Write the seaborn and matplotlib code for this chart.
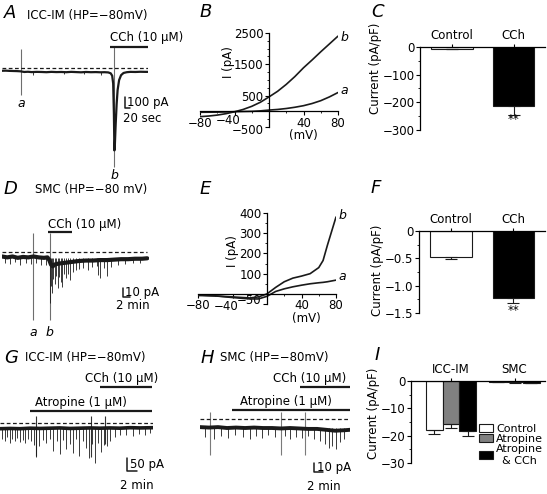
import numpy as np
import pandas as pd
import matplotlib
matplotlib.use('Agg')
import matplotlib.pyplot as plt
import matplotlib.transforms as mtransforms
import seaborn as sns
from matplotlib.ticker import MultipleLocator

# ---- data ----
# A: ICC-IM holding current (time in s, current in pA)
A_t = [0, 15, 30, 45, 60, 75, 90, 105, 120, 140, 160, 180, 200, 220, 240, 260, 280, 300, 320, 340, 360,
       380, 400, 415, 430, 440, 446, 450, 453, 455, 457, 460, 464, 468, 474, 482, 492, 505, 520, 540,
       560, 580, 591]
A_i = [-25, -24, -26, -27, -28, -30, -36, -34, -37, -35, -36, -38, -35, -37, -36, -38, -35, -37, -39,
       -36, -38, -37, -39, -38, -40, -48, -70, -140, -420, -750, -690, -520, -330, -200, -110, -65, -45,
       -38, -35, -36, -34, -35, -35]
A_spk_t = [125, 250, 330, 400]
A_spk_i = [-60, -55, -58, -62]
A_ramp_t = [77, 455]
A_ramp_top = [173, 200]
A_ramp_bot = [-250, -905]

# B: I-V curves (mV, pA)
B_mv = [-80, -70, -60, -50, -40, -30, -20, -10, 0, 10, 20, 30, 40, 50, 60, 70, 80]
B_a = [-30, -28, -25, -20, -12, -5, 0, 15, 40, 60, 90, 130, 180, 250, 340, 460, 600]
B_b = [-170, -150, -120, -75, -15, 60, 160, 290, 460, 640, 860, 1110, 1390, 1640, 1900, 2150, 2400]

# C: mean current density
C_cats = ['Control', 'CCh']
C_vals = [-6, -215]
C_sem = [2, 30]

# D: SMC holding current (time in min, current in pA)
D_t = [0, 1.5, 3, 4.5, 6, 7.5, 9, 10.5, 12, 13, 13.5, 14, 14.5, 15, 16, 17, 18, 19, 20, 21, 22, 24,
       26, 28, 30, 32, 34, 36, 38, 40, 41.5]
D_i = [-5, -6, -5, -6.5, -5.5, -6, -5, -6, -6.5, -6, -9, -14, -16, -14, -13, -12.5, -12, -11.5, -11,
       -10.5, -10, -9.5, -9.5, -9, -9, -8.5, -8, -8, -7.5, -7.5, -7]
D_spk_t = [0.8, 2.2, 3.6, 5.1, 6.8, 8.2, 9.8, 11.2, 12.6, 13.7, 14.0, 14.3, 14.7, 15.1, 15.5, 16.0,
           16.4, 16.9, 17.2, 17.7, 18.3, 18.9, 19.5, 20.2, 21.0, 22.0, 23.2, 24.5, 25.8, 27.0, 27.5,
           28.1, 29.0, 30.0, 31.2, 33.0, 35.0, 37.5, 39.5]
D_spk_i = [-12, -13, -11, -14, -12, -13, -12, -14, -15, -57, -38, -46, -30, -36, -27, -40, -28, -33,
           -39, -25, -29, -24, -31, -22, -20, -19, -18, -20, -17, -16, -26, -29, -18, -27, -17, -14,
           -13, -12, -12]
D_ramp_t = [8.9, 13.7]

# E: I-V curves (mV, pA)
E_mv = [-80, -60, -40, -20, -10, 0, 10, 20, 30, 40, 50, 60, 65, 70, 75, 80]
E_a = [-5, -10, -18, -25, -25, -12, 12, 25, 35, 43, 50, 55, 57, 60, 64, 68]
E_b = [-8, -10, -15, -20, -15, 0, 32, 60, 78, 88, 100, 130, 165, 240, 310, 380]

# F: mean current density
F_cats = ['Control', 'CCh']
F_vals = [-0.48, -1.23]
F_sem = [0.04, 0.09]

# G: ICC-IM with atropine (min, pA)
G_t = [0, 2, 4, 6, 8, 10, 12, 14, 16, 18, 20, 22, 24, 26, 28, 30.6]
G_i = [-22, -21, -22, -20, -21, -20, -19, -21, -20, -19, -20, -19, -20, -18, -19, -18]
G_spk_t = [0.4, 0.9, 1.4, 1.9, 2.4, 2.9, 3.4, 3.9, 4.5, 5.0, 5.6, 6.2, 6.7, 7.2, 7.8, 8.5, 9.2, 10.0,
           10.6, 11.3, 12.0, 12.6, 13.2, 13.9, 14.5, 15.2, 15.8, 16.5, 17.2, 17.8, 18.3, 19.0, 19.5,
           20.2, 20.8, 21.4, 22.0, 23.0, 24.0, 25.2, 26.5, 27.8, 29.0, 30.0]
G_spk_i = [-60, -70, -55, -75, -62, -68, -58, -72, -65, -78, -60, -70, -85, -131, -90, -66, -75, -60,
           -108, -70, -120, -65, -100, -80, -115, -60, -127, -70, -95, -135, -80, -154, -75, -110,
           -85, -90, -70, -55, -48, -45, -50, -42, -45, -40]
G_ramp_t = [7.2, 18.2, 21.0]
G_ramp_bot = [-125, -130, -80]

# H: SMC with atropine (min, pA)
H_t = [0, 2, 4, 6, 8, 10, 12, 14, 16, 18, 20, 22, 24, 26, 28, 30, 32, 33.3]
H_i = [-9, -9.5, -9, -10, -9.5, -10, -9.5, -10, -10, -10.5, -10, -10.5, -11, -11, -12, -13, -12.5, -12]
H_spk_t = [1.0, 3.0, 4.6, 6.2, 7.8, 9.5, 11.0, 12.4, 13.8, 15.2, 16.6, 18.8, 20.0, 21.4, 22.6, 24.0,
           25.4, 26.6, 27.8, 28.6, 29.4, 30.2, 31.0, 32.0]
H_spk_i = [-20, -22, -19, -21, -18, -20, -22, -19, -21, -18, -20, -19, -22, -20, -21, -19, -22, -24,
           -28, -32, -30, -33, -26, -22]
H_ramp_t = [2.2, 18.0, 23.3]

# I: summary with atropine
I_groups = ['ICC-IM', 'SMC']
I_conds = ['Control', 'Atropine', 'Atropine\n& CCh']
I_vals = {'Control': [-17.9, -0.4], 'Atropine': [-15.9, -0.5], 'Atropine\n& CCh': [-18.2, -0.6]}
I_sem = {'Control': [1.6, 0.1], 'Atropine': [1.4, 0.1], 'Atropine\n& CCh': [1.8, 0.1]}

# ---- figure ----
W, H = 547, 494
sns.set_theme(style='ticks')
plt.rcParams['font.family'] = ['DejaVu Sans']
plt.rcParams['font.size'] = 8.5
plt.rcParams['axes.linewidth'] = 0.9
for k in ['text.color', 'axes.labelcolor', 'axes.edgecolor', 'xtick.color', 'ytick.color']:
    plt.rcParams[k] = 'black'

fig = plt.figure(figsize=(W / 100, H / 100), dpi=100)
FS = 8.5


def box(x0, y0, x1, y1):
    return fig.add_axes([x0 / W, 1 - y1 / H, (x1 - x0) / W, (y1 - y0) / H])


def ftext(x, y, s, **kw):
    kw.setdefault('fontsize', FS)
    kw.setdefault('va', 'center')
    fig.text(x / W, 1 - y / H, s, **kw)


def letter(x, y, s):
    ftext(x, y, s, fontsize=13, style='italic')


def nudge(label, dx, dy):
    # shift a tick label by a few pixels
    off = mtransforms.ScaledTranslation(dx / 100, -dy / 100, fig.dpi_scale_trans)
    label.set_transform(label.get_transform() + off)


def trace(ax, t, i, spk_t, spk_i, level, lw=2.5):
    sns.lineplot(x=t, y=i, ax=ax, color='k', lw=lw, estimator=None, sort=False)
    ax.vlines(spk_t, level, spk_i, color='k', lw=0.6)
    ax.plot([t[0], t[-1]], [0, 0], color='k', lw=0.9, ls=(0, (3, 2)))
    ax.axis('off')


def hbar(ax, x0, x1, y):
    ax.plot([x0, x1], [y, y], color='k', lw=1.6, clip_on=False, solid_capstyle='butt')


def scalebar(ax, x0, dx, y0, dy, ylab, xlab, xlab_x, xlab_y):
    ax.plot([x0, x0, x0 + dx], [y0 + dy, y0, y0], color='k', lw=1.1, clip_on=False)
    ax.text(x0 + dx * 0.3, y0 + dy * 0.5, ylab, fontsize=FS, va='center', ha='left')
    ax.text(xlab_x, xlab_y, xlab, fontsize=FS, va='center', ha='center')


def iv_axes(ax, xlim, ylim):
    ax.set_xlim(*xlim)
    ax.set_ylim(*ylim)
    for s in ['top', 'right']:
        ax.spines[s].set_visible(False)
    ax.spines['left'].set_position(('data', 0))
    ax.spines['bottom'].set_position(('data', 0))
    ax.xaxis.set_minor_locator(MultipleLocator(20))
    ax.tick_params(which='major', length=3, width=0.8, labelsize=FS, pad=1)
    ax.tick_params(which='minor', length=1.5, width=0.6)
    ax.set_xlabel('')
    ax.set_ylabel('')


def bar_axes(ax, yt, ylabels, minor):
    for s in ['bottom', 'right']:
        ax.spines[s].set_visible(False)
    ax.xaxis.tick_top()
    ax.set_yticks(yt)
    ax.set_yticklabels(ylabels)
    ax.set_ylim(yt[-1], 0)
    ax.yaxis.set_minor_locator(MultipleLocator(minor))
    ax.tick_params(which='major', length=3, width=0.8, labelsize=FS, pad=1)
    ax.tick_params(which='minor', length=1.5, width=0.6)
    ax.tick_params(axis='x', length=2.5, pad=1)
    ax.set_xlabel('')
    ax.set_ylabel('')


def simple_bars(ax, cats, vals, sem):
    df = pd.DataFrame({'cat': cats, 'val': vals})
    sns.barplot(data=df, x='cat', y='val', hue='cat', palette=['white', 'black'], edgecolor='k',
                linewidth=0.8, width=0.67, errorbar=None, legend=False, ax=ax)
    ax.errorbar(range(len(cats)), vals, yerr=[sem, [0] * len(sem)], fmt='none', ecolor='k',
                elinewidth=0.8, capsize=4.5, capthick=0.8)
    ax.set_xlim(-0.52, 1.51)


# ---- A ----
letter(4, 13, 'A')
ftext(27, 15, 'ICC-IM (HP=\u221280mV)')
axA = box(2, 30, 148, 180)
axA.set_xlim(0, 591)
axA.set_ylim(-1019, 346)
axA.vlines(A_ramp_t, A_ramp_bot, A_ramp_top, color='#6e6e6e', lw=0.8)
trace(axA, A_t, A_i, A_spk_t, A_spk_i, -36, lw=1.6)
for t, yb, s in zip(A_ramp_t, A_ramp_bot, ['a', 'b']):
    axA.text(t, yb - 70, s, fontsize=9, style='italic', ha='center', va='center')
hbar(axA, 437, 591, 191)
axA.text(437, 282, 'CCh (10 \u00b5M)', fontsize=FS, va='center', ha='left')
scalebar(axA, 498, 20, -364, 100, '100 pA', '20 sec', 567, -455)

# ---- B ----
letter(200, 12, 'B')
axB = box(200, 33, 338, 127)
sns.lineplot(x=B_mv, y=B_a, ax=axB, color='k', lw=1.2)
sns.lineplot(x=B_mv, y=B_b, ax=axB, color='k', lw=1.2)
iv_axes(axB, (-80, 80), (-500, 2500))
axB.set_xticks([-80, -40, 40, 80])
axB.set_yticks([-500, 500, 1500, 2500])
axB.yaxis.set_minor_locator(MultipleLocator(250))
nudge(axB.get_xticklabels()[1], -6, -3)
nudge(axB.get_yticklabels()[0], 0, 2)
axB.text(83, 2370, 'b', fontsize=9, style='italic', va='center')
axB.text(83, 660, 'a', fontsize=9, style='italic', va='center')
axB.text(-47, 1570, 'I (pA)', fontsize=FS, rotation=90, ha='center', va='center')
axB.text(40, -760, '(mV)', fontsize=FS, ha='center', va='center')

# ---- C ----
letter(371, 12, 'C')
axC = box(420, 47, 545, 130)
simple_bars(axC, C_cats, C_vals, C_sem)
bar_axes(axC, [0, -100, -200, -300], ['0', '\u2212100', '\u2212200', '\u2212300'], 50)
axC.text(1, -262, '**', fontsize=FS, ha='center', va='center')
ftext(375, 68, 'Current (pA/pF)', rotation=90, ha='center')

# ---- D ----
letter(4, 189, 'D')
ftext(35, 190, 'SMC (HP=\u221280 mV)')
axD = box(2, 215, 149, 340)
axD.set_xlim(0, 42)
axD.set_ylim(-97.8, 41.1)
axD.vlines(D_ramp_t, -76, 21, color='#6e6e6e', lw=0.8)
trace(axD, D_t, D_i, D_spk_t, D_spk_i, -7, lw=3.0)
for t, s in zip(D_ramp_t, ['a', 'b']):
    axD.text(t, -89, s, fontsize=9, style='italic', ha='center', va='center')
hbar(axD, 13.1, 20.0, 22)
axD.text(13.1, 31, 'CCh (10 \u00b5M)', fontsize=FS, va='center', ha='left')
scalebar(axD, 34.6, 2, -50, 10, '10 pA', '2 min', 37.4, -60)

# ---- E ----
letter(200, 189, 'E')
axE = box(198, 213, 336, 304)
sns.lineplot(x=E_mv, y=E_a, ax=axE, color='k', lw=1.2)
sns.lineplot(x=E_mv, y=E_b, ax=axE, color='k', lw=1.2)
iv_axes(axE, (-80, 80), (-50, 400))
axE.set_xticks([-80, -40, 40, 80])
axE.set_yticks([-50, 100, 200, 300, 400])
axE.yaxis.set_minor_locator(MultipleLocator(50))
nudge(axE.get_xticklabels()[1], -6, 1)
nudge(axE.get_yticklabels()[0], 0, -5)
axE.text(83, 390, 'b', fontsize=9, style='italic', va='center')
axE.text(83, 85, 'a', fontsize=9, style='italic', va='center')
axE.text(-40, 210, 'I (pA)', fontsize=FS, rotation=90, ha='center', va='center')
axE.text(46, -122, '(mV)', fontsize=FS, ha='center', va='center')

# ---- F ----
letter(371, 188, 'F')
axF = box(419, 231, 545, 313)
simple_bars(axF, F_cats, F_vals, F_sem)
bar_axes(axF, [0, -0.5, -1.0, -1.5], ['0', '\u22120.5', '\u22121.0', '\u22121.5'], 0.25)
axF.text(1, -1.46, '**', fontsize=FS, ha='center', va='center')
ftext(377, 270, 'Current (pA/pF)', rotation=90, ha='center')

# ---- G ----
letter(4, 358, 'G')
ftext(25, 358, 'ICC-IM (HP=\u221280mV)')
axG = box(0, 395, 153, 475)
axG.set_xlim(0, 30.6)
axG.set_ylim(-200, 107.7)
axG.vlines(G_ramp_t, G_ramp_bot, 27, color='#333333', lw=0.8)
trace(axG, G_t, G_i, G_spk_t, G_spk_i, -20, lw=2.6)
hbar(axG, 6.0, 30.4, 46)
axG.text(7, 78, 'Atropine (1 \u00b5M)', fontsize=FS, va='center', ha='left')
hbar(axG, 20.0, 30.4, 138)
axG.text(17, 173, 'CCh (10 \u00b5M)', fontsize=FS, va='center', ha='left')
scalebar(axG, 25.4, 2, -185, 50, '50 pA', '2 min', 27.3, -242)

# ---- H ----
letter(201, 358, 'H')
ftext(220, 358, 'SMC (HP=\u221280mV)')
axH = box(200, 395, 350, 480)
axH.set_xlim(0, 33.3)
axH.set_ylim(-67.8, 26.7)
axH.vlines(H_ramp_t, -40, 8, color='#7a7a7a', lw=0.8)
trace(axH, H_t, H_i, H_spk_t, H_spk_i, -10, lw=2.8)
hbar(axH, 7.1, 33.3, 10)
axH.text(8.9, 19, 'Atropine (1 \u00b5M)', fontsize=FS, va='center', ha='left')
hbar(axH, 22.2, 33.3, 35.5)
axH.text(16.2, 45.5, 'CCh (10 \u00b5M)', fontsize=FS, va='center', ha='left')
scalebar(axH, 25.3, 2, -59, 10, '10 pA', '2 min', 27.5, -75.5)

# ---- I ----
letter(375, 355, 'I')
axI = box(411, 381, 545, 463)
rows = []
for c in I_conds:
    for g, v in zip(I_groups, I_vals[c]):
        rows.append({'group': g, 'cond': c, 'val': v})
dfI = pd.DataFrame(rows)
sns.barplot(data=dfI, x='group', y='val', hue='cond', hue_order=I_conds,
            palette=['white', '#808080', 'black'], edgecolor='k', linewidth=0.8, width=0.8,
            errorbar=None, ax=axI)
for cont, c in zip(axI.containers, I_conds):
    xs = [b.get_x() + b.get_width() / 2 for b in cont]
    axI.errorbar(xs, I_vals[c], yerr=[I_sem[c], [0, 0]], fmt='none', ecolor='k',
                 elinewidth=0.8, capsize=4, capthick=0.8)
axI.set_xlim(-0.63, 1.48)
bar_axes(axI, [0, -10, -20, -30], ['0', '\u221210', '\u221220', '\u221230'], 5)
handles, labels = axI.get_legend_handles_labels()
leg = axI.legend(handles, labels, loc='upper left', bbox_to_anchor=(0.51, 0.48), frameon=False,
                 fontsize=8, handlelength=1.2, handleheight=0.7, handletextpad=0.3,
                 labelspacing=0.02, borderpad=0, borderaxespad=0)
leg.get_texts()[2].set_multialignment('center')
ftext(374, 413, 'Current (pA/pF)', rotation=90, ha='center')

fig.savefig('out.png', dpi=100)
